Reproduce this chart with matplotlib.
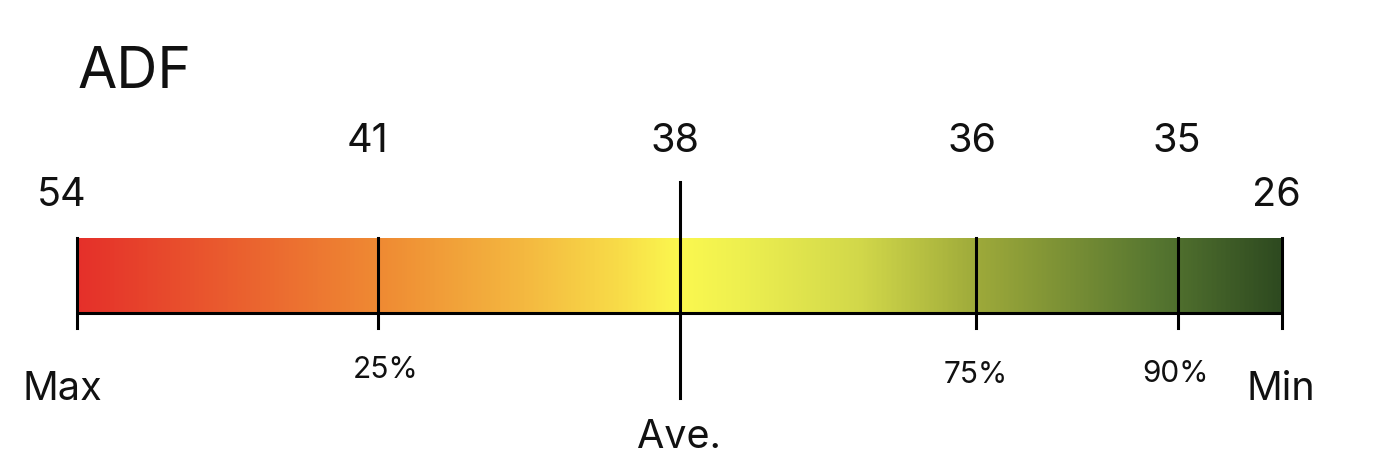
import numpy as np
import matplotlib
matplotlib.use("Agg")
import matplotlib.pyplot as plt
from matplotlib.colors import LinearSegmentedColormap

plt.rcParams['font.family'] = ['Inter', 'DejaVu Sans']

# data
title = "ADF"
marker_pos = [0.0, 0.25, 0.5, 0.746, 0.914, 1.0]   # position along the bar
marker_values = ["54", "41", "38", "36", "35", "26"]
marker_labels = ["Max", "25%", "Ave.", "75%", "90%", "Min"]

# gradient colour stops (position, colour)
grad_pos = [0.0, 0.25, 0.37, 0.45, 0.5, 0.55, 0.65, 0.75, 0.9, 1.0]
grad_col = ["#E5302A", "#EF8A33", "#F4B840", "#F8DC48", "#FBF84F",
            "#EEF050", "#D2D84A", "#9DA93A", "#557530", "#2E4A20"]

W, H = 1384, 470
x0, x1 = 77, 1282          # bar ends in pixels
span = x1 - x0

fig = plt.figure(figsize=(W / 100, H / 100), dpi=100)
ax = fig.add_axes([0, 0, 1, 1])
ax.set_xlim(-x0 / span, 1 + (W - x1) / span)
ax.set_ylim(H, 0)
ax.axis('off')

cmap = LinearSegmentedColormap.from_list("adf", list(zip(grad_pos, grad_col)))
grad = np.linspace(0, 1, 512).reshape(1, -1)
bar_top, bar_bot = 238, 313
ax.imshow(grad, cmap=cmap, aspect='auto', extent=[0, 1, bar_bot, bar_top],
          interpolation='bilinear', zorder=1)

lw = 2.2
txt = '#111111'
ax.plot([0, 1], [bar_bot, bar_bot], color='black', lw=lw, zorder=3,
        solid_capstyle='butt')

# small nudges so the numbers sit where they do in the original
val_dx = [-0.013, -0.009, -0.004, -0.003, -0.001, -0.005]

for i, (p, v, lab) in enumerate(zip(marker_pos, marker_values, marker_labels)):
    if lab == "Ave.":
        ax.plot([p, p], [182, 398], color='black', lw=lw, zorder=3)
    else:
        ax.plot([p, p], [bar_top, 328], color='black', lw=lw, zorder=3)

    # value labels
    vy = 195 if i in (0, 5) else 142
    ax.text(p + val_dx[i], vy, v, fontsize=28.5,
            ha='center', va='center', color=txt)

    # bottom labels
    if lab == "Max":
        ax.text(p - 0.012, 389, lab, fontsize=28.5, ha='center', va='center',
                color=txt)
    elif lab == "Min":
        ax.text(p - 0.001, 390, lab, fontsize=28.5, ha='center', va='center',
                color=txt)
    elif lab == "Ave.":
        ax.text(p, 438, lab, fontsize=28.5, ha='center', va='center',
                color=txt)
    else:
        ly = {"25%": 370, "75%": 375, "90%": 374}[lab]
        dx = {"25%": 0.006, "75%": 0.0, "90%": -0.002}[lab]
        ax.text(p + dx, ly, lab, fontsize=21.5, ha='center', va='center',
                color=txt)

ax.text(1 / span, 73, title, fontsize=41, ha='left', va='center', color=txt)

fig.savefig("out.png", dpi=100)
